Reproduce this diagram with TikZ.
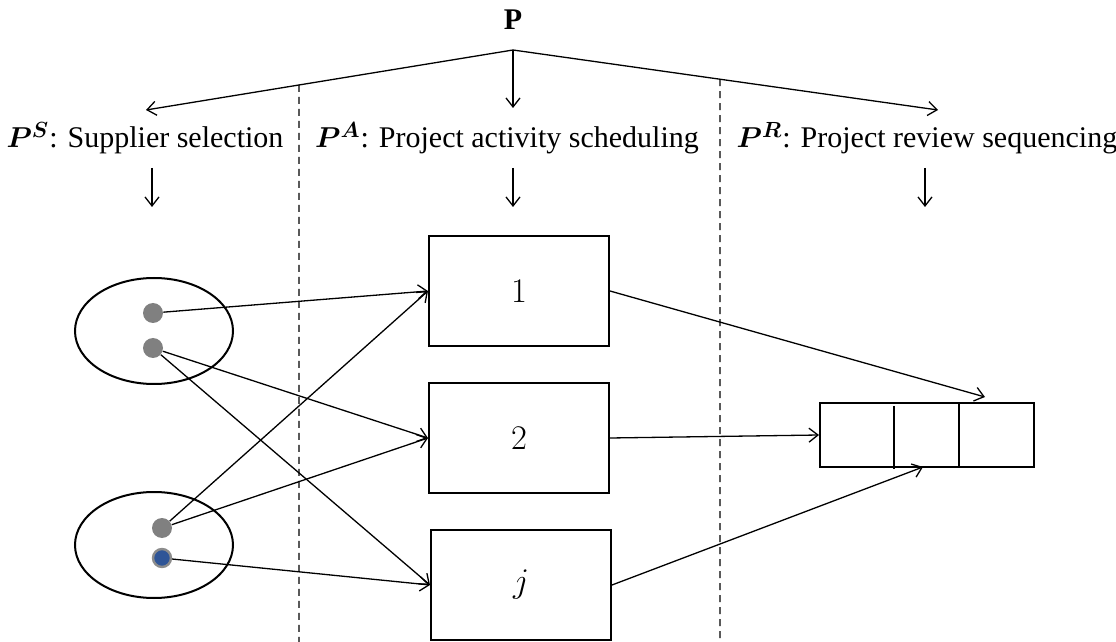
\documentclass[tikz,border=0pt]{standalone}
\usepackage{fontspec}
\setmainfont{Liberation Serif}
\usepackage{bm}
\usetikzlibrary{shapes.geometric,arrows.meta}
\definecolor{dotblue}{RGB}{47,85,151}

\begin{document}
\begin{tikzpicture}[
		x = 0.5pt, y = -0.5pt,
		every node/.style = {font = \fontsize{15}{18}\selectfont},
		link/.style = {-{Straight Barb[length=4.5pt,width=7pt]}, line width = 0.65pt},
		divider/.style = {dash pattern = on 3.5pt off 2.5pt, line width = 0.6pt},
		stage/.style = {draw, line width = 1pt, minimum width = 90pt, minimum height = 55pt, inner sep = 0pt, font = \fontsize{17.5}{20}\selectfont},
		group/.style = {draw, ellipse, line width = 1pt, minimum width = 79pt, minimum height = 53pt},
		supplier/.style = {circle, fill = black!50, minimum size = 10pt, inner sep = 0pt}
	]
	\useasboundingbox (0,0) rectangle (1116,642);

	% problem and its three parts
	\node[font = \fontsize{15}{18}\selectfont\bfseries] (P) at (513,20) {P};
	\coordinate (apex) at (513,50);
	\coordinate (toS) at (146,110);
	\coordinate (toA) at (513,108);
	\coordinate (toR) at (938,110);
	\draw[link] (apex) -- (toS);
	\draw[link] (apex) -- (toA);
	\draw[link] (apex) -- (toR);
	\path (apex) -- (toS) coordinate[pos = 0.583] (cutS);
	\path (apex) -- (toR) coordinate[pos = 0.487] (cutR);
	\draw[divider] (cutS) -- (299,642);
	\draw[divider] (cutR) -- (720,642);

	\node (PS) at (145,138) {$\bm{P}^{\bm{S}}$: Supplier selection};
	\node (PA) at (507,138) {$\bm{P}^{\bm{A}}$: Project activity scheduling};
	\node (PR) at (927,138) {$\bm{P}^{\bm{R}}$: Project review sequencing};

	\foreach \x/\n in {152/S,513/A,925/R}{
		\coordinate (top\n) at (\x,168);
		\coordinate (bot\n) at (\x,207);
		\draw[link] (top\n) -- (bot\n);
	}

	% suppliers
	\node[group] (grp1) at (154,331) {};
	\node[group] (grp2) at (154,545) {};
	\node[supplier] (s1) at (153,313) {};
	\node[supplier] (s2) at (153,348) {};
	\node[supplier] (s3) at (162,528) {};
	\node[supplier, fill = dotblue, draw = black!45, line width = 1.2pt, minimum size = 9pt] (s4) at (162,558) {};

	% activities
	\node[stage] (a1) at (519,291) {$1$};
	\node[stage] (a2) at (519,438) {$2$};
	\node[stage] (aj) at (521,585) {$j$};

	% review sequence
	\node[draw, line width = 1pt, minimum width = 107pt, minimum height = 32pt, inner sep = 0pt] (seq) at (927,435) {};
	\draw[line width = 1pt] (894,406) -- (894,469);
	\draw[line width = 1pt] (959,403) -- (959,467);
	\coordinate (r1) at (985,397);
	\coordinate (r3) at (923,467);

	\draw[link] (s1) -- (a1.west);
	\draw[link] (s2) -- (a2.west);
	\draw[link] (s2) -- (aj.west);
	\draw[link] (s3) -- (a1.west);
	\draw[link] (s3) -- (a2.west);
	\draw[link] (s4) -- (aj.west);

	\draw[link] (a1.east) -- (r1);
	\draw[link] (a2.east) -- (seq.west);
	\draw[link] (aj.east) -- (r3);

\end{tikzpicture}
\end{document}
